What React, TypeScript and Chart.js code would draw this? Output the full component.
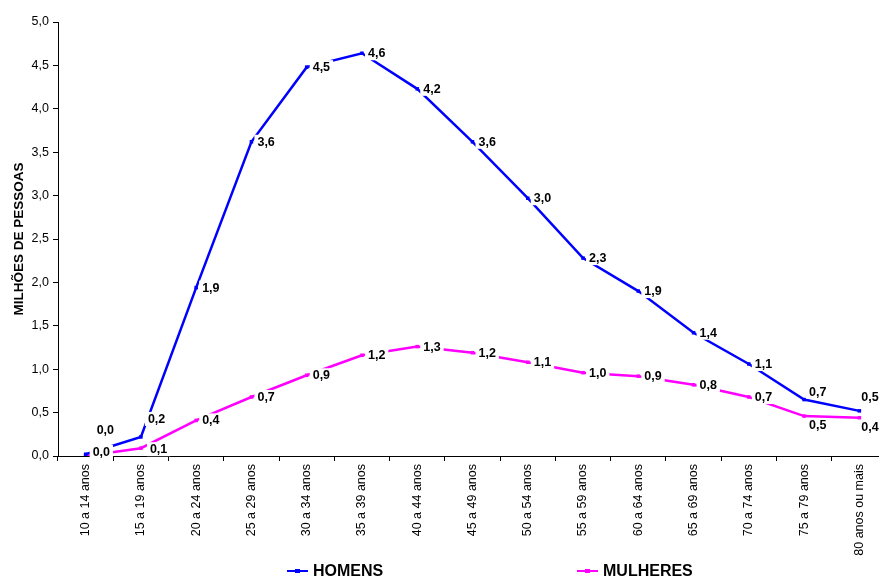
import React, { useEffect, useRef } from 'react';
import { Chart, registerables } from 'chart.js';

Chart.register(...registerables);

// Faixas etárias (eixo X)
const faixas = [
  '10 a 14 anos',
  '15 a 19 anos',
  '20 a 24 anos',
  '25 a 29 anos',
  '30 a 34 anos',
  '35 a 39 anos',
  '40 a 44 anos',
  '45 a 49 anos',
  '50 a 54 anos',
  '55 a 59 anos',
  '60 a 64 anos',
  '65 a 69 anos',
  '70 a 74 anos',
  '75 a 79 anos',
  '80 anos ou mais',
];

// Milhões de pessoas por faixa etária
const homens = [0.02, 0.22, 1.94, 3.62, 4.48, 4.64, 4.23, 3.62, 2.97, 2.28, 1.9, 1.42, 1.06, 0.65, 0.52];
const mulheres = [0.0, 0.09, 0.41, 0.68, 0.93, 1.16, 1.26, 1.19, 1.08, 0.96, 0.92, 0.82, 0.68, 0.46, 0.44];

// Eixo Y
const yMin = 0;
const yMax = 5;
const yStep = 0.5;

const BLUE = '#0000FF';
const MAGENTA = '#FF00FF';
const FONT = '"Liberation Sans", Arial, Helvetica, sans-serif';

const fmt = (v: number) => v.toFixed(1).replace('.', ',');

// Deslocamento dos rótulos de valor [dx, dy] por série/índice (padrão: à direita do ponto)
const labelShift: Record<number, Record<number, [number, number]>> = {
  0: { 0: [11, -24], 1: [7, -18], 13: [5, -8], 14: [2, -14] },
  1: { 0: [7, -4], 1: [9, 1], 13: [5, 9], 14: [2, 9] },
};

const valueLabels = {
  id: 'valueLabels',
  afterDatasetsDraw(chart: any) {
    const ctx = chart.ctx;
    ctx.save();
    ctx.font = `bold 12.5px ${FONT}`;
    ctx.textBaseline = 'middle';
    ctx.textAlign = 'left';
    chart.data.datasets.forEach((ds: any, di: number) => {
      const meta = chart.getDatasetMeta(di);
      meta.data.forEach((pt: any, i: number) => {
        const txt = fmt(ds.data[i]);
        const [dx, dy] = (labelShift[di] && labelShift[di][i]) || [6, 0];
        const x = pt.x + dx;
        const y = pt.y + dy;
        const w = ctx.measureText(txt).width;
        ctx.fillStyle = '#FFFFFF';
        ctx.fillRect(x - 3, y - 7, w + 6, 14);
        ctx.fillStyle = '#000000';
        ctx.fillText(txt, x, y + 0.5);
      });
    });
    ctx.restore();
  },
};

const bottomLegend = {
  id: 'bottomLegend',
  afterDraw(chart: any) {
    const ctx = chart.ctx;
    const items = [
      { text: 'HOMENS', color: BLUE, x: 287 },
      { text: 'MULHERES', color: MAGENTA, x: 577 },
    ];
    const y = 571;
    ctx.save();
    items.forEach((it) => {
      ctx.strokeStyle = it.color;
      ctx.lineWidth = 2;
      ctx.beginPath();
      ctx.moveTo(it.x, y);
      ctx.lineTo(it.x + 21, y);
      ctx.stroke();
      ctx.fillStyle = it.color;
      ctx.fillRect(it.x + 8, y - 2, 5, 4);
      ctx.fillStyle = '#000000';
      ctx.font = `bold 16px ${FONT}`;
      ctx.textBaseline = 'middle';
      ctx.textAlign = 'left';
      ctx.fillText(it.text, it.x + 26, y + 1);
    });
    ctx.restore();
  },
};

export default function App() {
  const canvasRef = useRef<HTMLCanvasElement | null>(null);

  useEffect(() => {
    const canvas = canvasRef.current;
    if (!canvas) return;
    const chart = new Chart(canvas, {
      type: 'line',
      data: {
        labels: faixas,
        datasets: [
          {
            label: 'HOMENS',
            data: homens,
            borderColor: BLUE,
            backgroundColor: BLUE,
            borderWidth: 2.5,
            pointStyle: 'rect',
            pointRadius: 2.5,
            pointBorderWidth: 0,
            tension: 0,
          },
          {
            label: 'MULHERES',
            data: mulheres,
            borderColor: MAGENTA,
            backgroundColor: MAGENTA,
            borderWidth: 2.5,
            pointStyle: 'rect',
            pointRadius: 2.5,
            pointBorderWidth: 0,
            tension: 0,
          },
        ],
      },
      options: {
        responsive: false,
        animation: false,
        layout: { padding: { top: 22, left: 0, right: 0, bottom: 0 } },
        plugins: {
          legend: { display: false },
          tooltip: { enabled: false },
        },
        scales: {
          x: {
            type: 'category',
            offset: true,
            grid: {
              offset: true,
              drawOnChartArea: false,
              drawTicks: true,
              tickLength: 5,
              color: '#000000',
            },
            border: { display: true, color: '#000000', width: 1 },
            ticks: {
              autoSkip: false,
              maxRotation: 90,
              minRotation: 90,
              padding: 3,
              color: '#000000',
              font: { family: FONT, size: 12.5 },
            },
            afterFit(scale: any) {
              scale.height = 121;
            },
          },
          y: {
            min: yMin,
            max: yMax,
            grid: {
              drawOnChartArea: false,
              drawTicks: true,
              tickLength: 5,
              color: '#000000',
            },
            border: { display: true, color: '#000000', width: 1 },
            ticks: {
              stepSize: yStep,
              padding: 4,
              color: '#000000',
              font: { family: FONT, size: 12.5 },
              callback: (v: any) => fmt(Number(v)),
            },
            title: {
              display: true,
              text: 'MILHÕES DE PESSOAS',
              color: '#000000',
              font: { family: FONT, size: 13.5, weight: 'bold' },
              padding: { top: 11, bottom: 0 },
            },
            afterFit(scale: any) {
              scale.width = 58;
            },
          },
        },
      },
      plugins: [valueLabels, bottomLegend],
    } as any);
    return () => chart.destroy();
  }, []);

  return (
    <div
      style={{
        position: 'absolute',
        left: 0,
        top: 0,
        width: 879,
        height: 577,
        overflow: 'hidden',
        background: '#FFFFFF',
      }}
    >
      <canvas ref={canvasRef} width={891} height={577} style={{ width: 891, height: 577, display: 'block' }} />
    </div>
  );
}
